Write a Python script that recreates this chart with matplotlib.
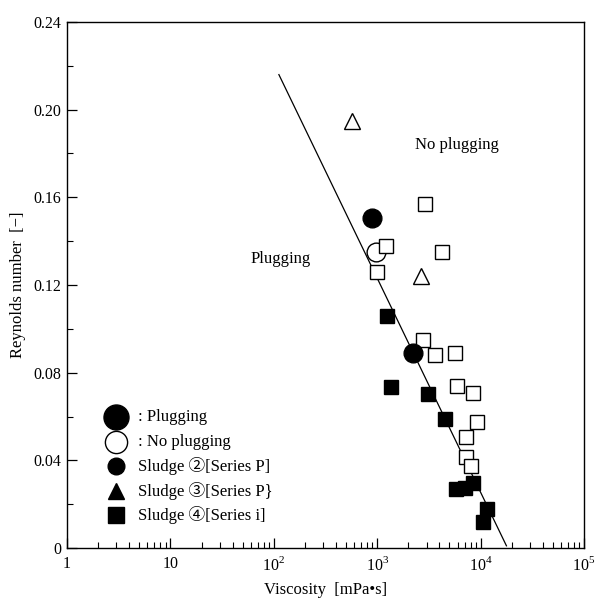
import matplotlib
matplotlib.use("Agg")
import matplotlib.pyplot as plt
from matplotlib.ticker import FixedLocator, LogLocator, NullFormatter

plt.rcParams['font.family'] = ['Liberation Serif', 'DejaVu Serif', 'Noto Sans CJK JP']
plt.rcParams['mathtext.fontset'] = 'custom'
plt.rcParams['mathtext.rm'] = 'Liberation Serif'

# ---- data (viscosity [mPa s], Reynolds number [-]) ----
s2_plug_visc = [895, 2218]
s2_plug_re = [0.1505, 0.089]
s2_noplug_visc = [975]
s2_noplug_re = [0.135]
s3_noplug_visc = [570, 2655]
s3_noplug_re = [0.195, 0.124]
s4_plug_visc = [1247, 1364, 3083, 4530, 5768, 7063, 8472, 11490, 10520]
s4_plug_re = [0.106, 0.0734, 0.0702, 0.0588, 0.0269, 0.0274, 0.0296, 0.0178, 0.0119]
s4_noplug_visc = [2912, 1214, 4236, 995, 2783, 3614, 5662, 5902, 8472, 9226, 7228, 7228, 8110]
s4_noplug_re = [0.157, 0.138, 0.135, 0.126, 0.095, 0.088, 0.089, 0.074, 0.0707, 0.0575, 0.0506, 0.0415, 0.0374]
line_visc = [112, 17780]
line_re = [0.216, 0.001]

x_ticks = [1, 10, 1e2, 1e3, 1e4, 1e5]
x_ticklabels = ['1', '10', '$10^2$', '$10^3$', '$10^4$', '$10^5$']
y_ticks = [0, 0.04, 0.08, 0.12, 0.16, 0.20, 0.24]
y_ticklabels = ['0', '0.04', '0.08', '0.12', '0.16', '0.20', '0.24']
y_minor = [0.02, 0.06, 0.10, 0.14, 0.18, 0.22]

L, R, T, B = 67, 584, 22, 548
fig = plt.figure(figsize=(5.98, 6.05), dpi=100)
ax = fig.add_axes([L/598, 1-B/605, (R-L)/598, (B-T)/605])

ax.plot(line_visc, line_re, color='black', lw=0.9, zorder=2)

mew = 1.0
ax.plot(s4_noplug_visc, s4_noplug_re, 's', ms=10, mfc='white', mec='black', mew=mew, ls='none', zorder=3)
ax.plot(s4_plug_visc, s4_plug_re, 's', ms=10, mfc='black', mec='black', mew=mew, ls='none', zorder=3)
ax.plot(s3_noplug_visc, s3_noplug_re, '^', ms=11, mfc='white', mec='black', mew=mew, ls='none', zorder=3)
ax.plot(s2_noplug_visc, s2_noplug_re, 'o', ms=13.5, mfc='white', mec='black', mew=mew, ls='none', zorder=2.5)
ax.plot(s2_plug_visc, s2_plug_re, 'o', ms=13.5, mfc='black', mec='black', mew=mew, ls='none', zorder=4)

ax.set_xscale('log')
ax.set_xlim(1, 1e5)
ax.set_ylim(0, 0.24)
ax.xaxis.set_major_locator(FixedLocator(x_ticks))
ax.set_xticklabels(x_ticklabels)
ax.xaxis.set_minor_locator(LogLocator(base=10, subs=range(2, 10)))
ax.xaxis.set_minor_formatter(NullFormatter())
ax.set_yticks(y_ticks)
ax.set_yticklabels(y_ticklabels)
ax.yaxis.set_minor_locator(FixedLocator(y_minor))

ax.tick_params(which='major', direction='in', length=7, width=0.9, labelsize=11.5, pad=4)
ax.tick_params(which='minor', direction='in', length=4, width=0.8)
ax.tick_params(axis='x', which='major', pad=6)
for s in ax.spines.values():
    s.set_linewidth(1.0)

ax.set_xlabel('Viscosity  [mPa\u2022s]', fontsize=12, va='center')
ax.xaxis.set_label_coords(0.5, (B - 590) / (B - T))
ax.set_ylabel('Reynolds number  [\u2212]', fontsize=12, va='center')
ax.yaxis.set_label_coords((18 - L) / (R - L), 0.5)

ax.text(2323, 0.184, 'No plugging', fontsize=12, va='center', ha='left')
ax.text(59, 0.132, 'Plugging', fontsize=12, va='center', ha='left')

# legend
def ax_xy(px, py):
    return ((px - L) / (R - L), (B - py) / (B - T))

leg = [
    ('o', 18, 'black', ': Plugging', 417),
    ('o', 16, 'white', ': No plugging', 442),
    ('o', 12, 'black', 'Sludge \u2461[Series P]', 466),
    ('^', 12, 'black', 'Sludge \u2462[Series P}', 491),
    ('s', 11, 'black', 'Sludge \u2463[Series i]', 515),
]
for mk, ms, fc, label, py in leg:
    mx, my = ax_xy(116, py)
    ax.plot([mx], [my], mk, ms=ms, mfc=fc, mec='black', mew=1.0, transform=ax.transAxes, clip_on=False)
    tx, ty = ax_xy(138, py)
    ax.text(tx, ty, label, fontsize=12, va='center', ha='left', transform=ax.transAxes)

fig.savefig('out.png', dpi=100)
